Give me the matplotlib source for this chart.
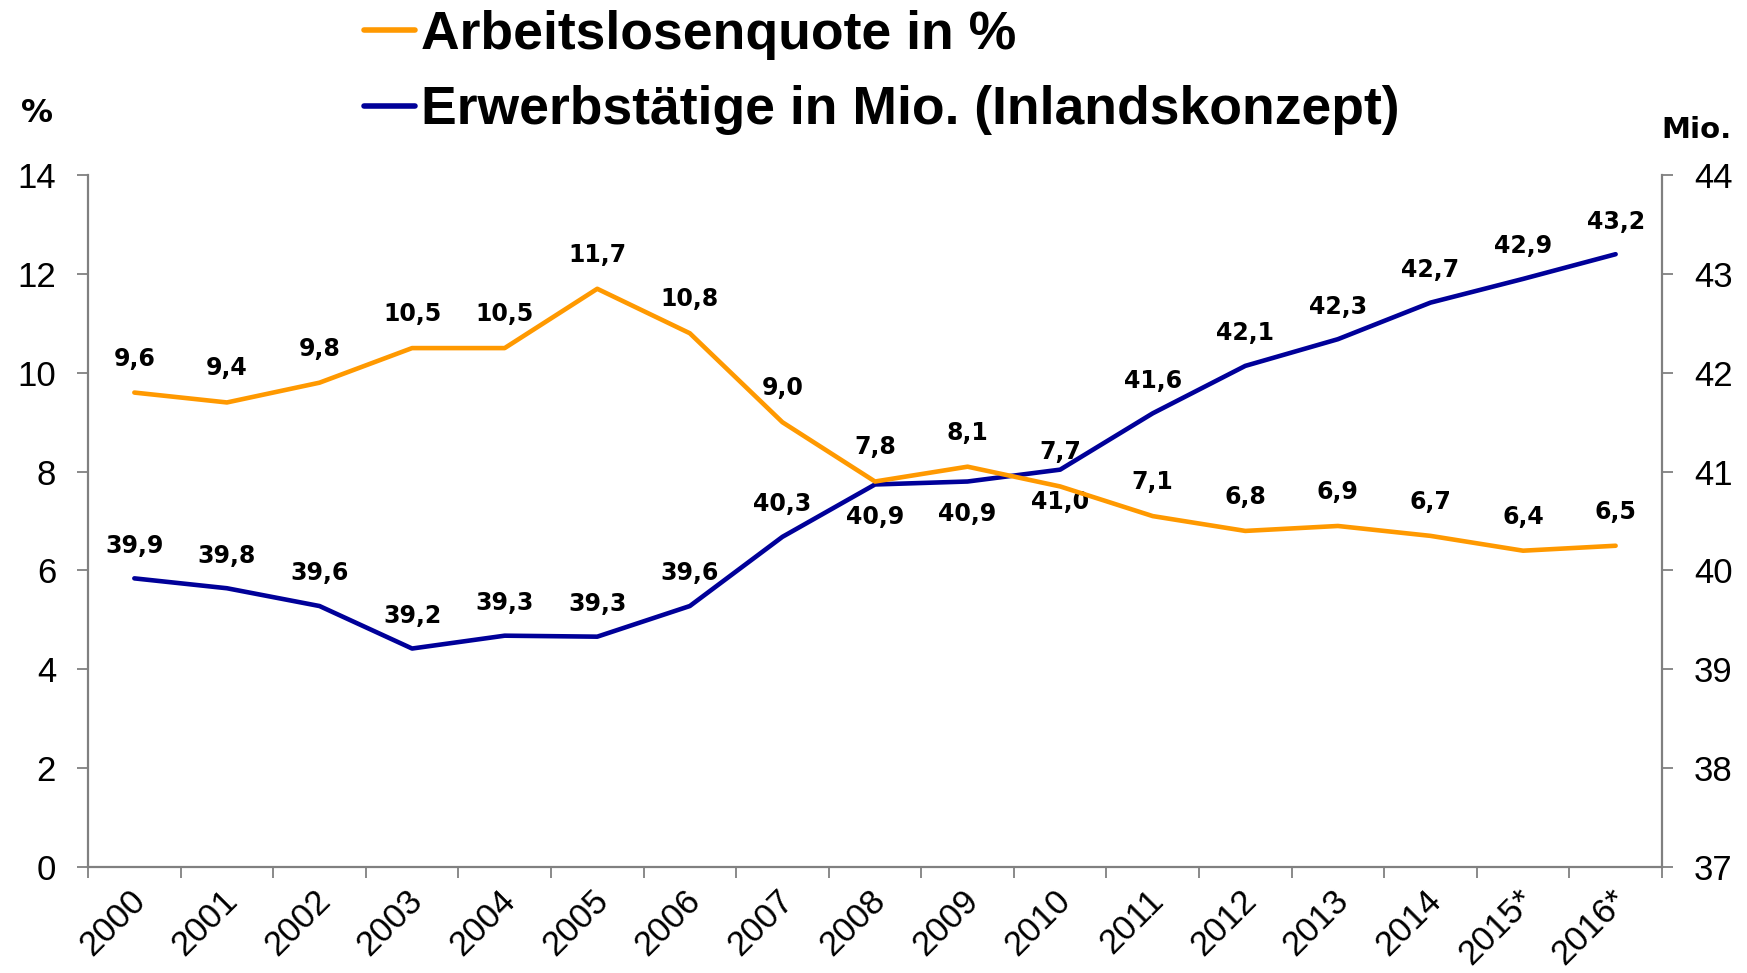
import matplotlib
matplotlib.use("Agg")
import matplotlib.pyplot as plt
from matplotlib import font_manager as fm
import matplotlib.transforms as mtransforms

years = ["2000", "2001", "2002", "2003", "2004", "2005", "2006", "2007", "2008",
         "2009", "2010", "2011", "2012", "2013", "2014", "2015*", "2016*"]
quote = [9.6, 9.4, 9.8, 10.5, 10.5, 11.7, 10.8, 9.0, 7.8, 8.1, 7.7, 7.1, 6.8, 6.9, 6.7, 6.4, 6.5]
erwerb = [39.92, 39.82, 39.64, 39.21, 39.34, 39.33, 39.64, 40.34, 40.87, 40.90, 41.02,
          41.59, 42.07, 42.34, 42.71, 42.95, 43.20]
erwerb_labels = [39.9, 39.8, 39.6, 39.2, 39.3, 39.3, 39.6, 40.3, 40.9, 40.9, 41.0,
                 41.6, 42.1, 42.3, 42.7, 42.9, 43.2]
erwerb_below = ["2008", "2009", "2010"]

legend_labels = ["Arbeitslosenquote in %", "Erwerbstätige in Mio. (Inlandskonzept)"]

ORANGE = "#FF9900"
BLUE = "#000099"
GREY = "#808080"

names = {f.name for f in fm.fontManager.ttflist}
base = "Liberation Sans" if "Liberation Sans" in names else "DejaVu Sans"
plt.rcParams["font.family"] = [base, "DejaVu Sans"]
LABEL_FONT = "DejaVu Sans"

fig = plt.figure(figsize=(17.47, 9.73), dpi=100)
ax = fig.add_axes([0.0504, 0.109, 0.9009, 0.711])
ax2 = ax.twinx()

x = list(range(len(years)))
ax.set_xlim(-0.5, len(years) - 0.5)
ax.set_ylim(0, 14)
ax2.set_ylim(37, 44)

l2, = ax2.plot(x, erwerb, color=BLUE, lw=3.3, solid_capstyle="round", label=legend_labels[1])
l1, = ax.plot(x, quote, color=ORANGE, lw=3.3, solid_capstyle="round", label=legend_labels[0])
ax.set_zorder(ax2.get_zorder() + 1)
ax.patch.set_visible(False)

def fmt(v):
    return f"{v:.1f}".replace(".", ",")

for i, v in enumerate(quote):
    ax.annotate(fmt(v), (i, v), xytext=(0, 24.5), textcoords="offset points",
                ha="center", va="center", fontsize=17, fontweight="bold",
                family=LABEL_FONT)
for i, (v, lab) in enumerate(zip(erwerb, erwerb_labels)):
    off = -23.5 if years[i] in erwerb_below else 23.5
    ax2.annotate(fmt(lab), (i, v), xytext=(0, off), textcoords="offset points",
                 ha="center", va="center", fontsize=17, fontweight="bold",
                 family=LABEL_FONT)

# axes styling
for a in (ax, ax2):
    for s in a.spines.values():
        s.set_visible(False)
ax.spines["left"].set_visible(True)
ax.spines["bottom"].set_visible(True)
ax2.spines["right"].set_visible(True)
for s in (ax.spines["left"], ax.spines["bottom"], ax2.spines["right"]):
    s.set_color(GREY)
    s.set_linewidth(1.6)

ax.set_yticks(range(0, 15, 2))
ax.tick_params(axis="y", direction="out", length=8, width=1.3, color=GREY,
               labelsize=25, pad=15)
ax2.set_yticks(range(37, 45))
ax2.tick_params(axis="y", direction="out", length=8, width=1.3, color=GREY,
                labelsize=25, pad=15)

ax.set_xticks([i - 0.5 for i in range(len(years) + 1)], minor=True)
ax.set_xticks(x)
ax.set_xticklabels(years, rotation=45, ha="right", rotation_mode="anchor")
ax.tick_params(axis="x", which="major", length=0, labelsize=25, pad=12)
ax.tick_params(axis="x", which="minor", direction="out", length=8, width=1.3, color=GREY)
offset = mtransforms.ScaledTranslation(-6 / 100, 0, fig.dpi_scale_trans)
for lbl in ax.get_xticklabels():
    lbl.set_transform(lbl.get_transform() + offset)

fig.text(37 / 1747, 1 - 114 / 973, "%", ha="center", va="center", fontsize=23,
         fontweight="bold", family=LABEL_FONT)
fig.text(1696 / 1747, 1 - 130 / 973, "Mio.", ha="center", va="center", fontsize=21,
         fontweight="bold", family=LABEL_FONT)

leg = fig.legend([l1, l2], legend_labels, loc="upper left",
                 bbox_to_anchor=(332 / 1747, 1.0 + 22 / 973), frameon=False,
                 prop={"weight": "bold", "size": 38.5},
                 handlelength=0.95, handletextpad=0.12, labelspacing=0.47,
                 borderpad=0.1)
for h in leg.get_lines():
    h.set_linewidth(4)

fig.savefig("out.png", dpi=100)
